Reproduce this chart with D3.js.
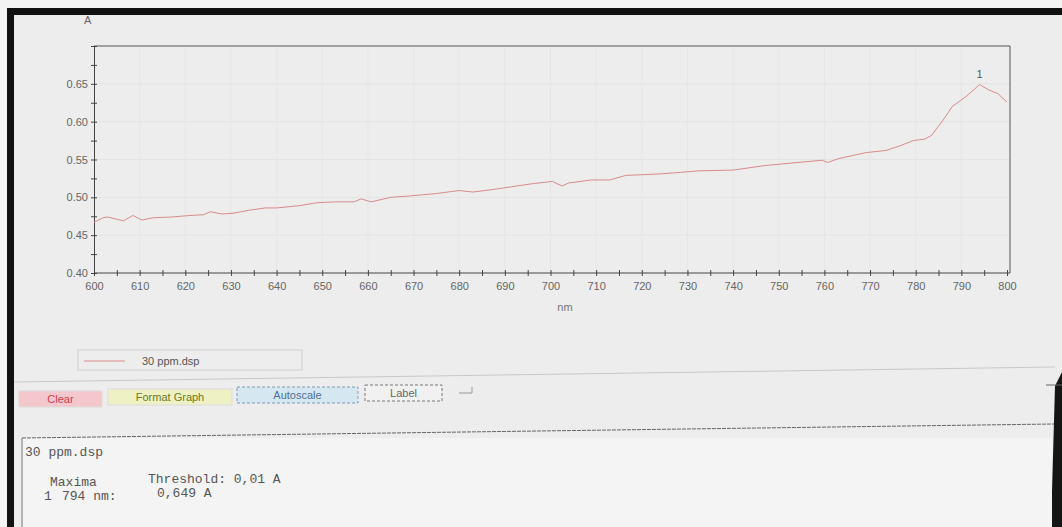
<!DOCTYPE html>
<html>
<head>
<meta charset="utf-8">
<script src="https://cdnjs.cloudflare.com/ajax/libs/d3/7.8.5/d3.min.js"></script>
<style>
  body { margin: 0; background: #f3f3f3; }
  svg { display: block; }
</style>
</head>
<body>
<div id="chart"></div>
<script>
const width = 1062;
const height = 527;

// spectrum (nm, absorbance)
const wavelength = [600, 602, 603, 605, 606.5, 608.5, 610.5, 613, 617, 621, 624, 625.5, 628, 630.5, 634, 637.5, 640, 645, 649, 653,
  657, 658.5, 660.7, 665, 669.5, 675, 680, 683, 687, 691.5, 696, 700.4, 702.5, 704, 709, 713, 716.5, 720.5, 724, 728.5,
  732.5, 740, 747, 754, 759.5, 760.7, 763, 769, 773.5, 776.5, 779.5, 782, 783.5, 786, 788, 791, 794, 796, 798, 800];
const absorbance = [0.467, 0.473, 0.474, 0.471, 0.469, 0.476, 0.470, 0.473, 0.474, 0.476, 0.477, 0.481, 0.478, 0.479, 0.483, 0.486, 0.486, 0.489, 0.493, 0.494,
  0.494, 0.498, 0.494, 0.500, 0.502, 0.505, 0.509, 0.507, 0.510, 0.514, 0.518, 0.521, 0.515, 0.519, 0.523, 0.523, 0.529, 0.530, 0.531, 0.533,
  0.535, 0.536, 0.542, 0.546, 0.549, 0.546, 0.551, 0.559, 0.562, 0.568, 0.575, 0.577, 0.582, 0.602, 0.620, 0.633, 0.649, 0.642, 0.637, 0.626];

const xTicks = [600, 610, 620, 630, 640, 650, 660, 670, 680, 690, 700, 710, 720, 730, 740, 750, 760, 770, 780, 790, 800];
const yTicks = [0.40, 0.45, 0.50, 0.55, 0.60, 0.65];
const peakNm = 794;
const peakA = 0.649;
const seriesName = "30 ppm.dsp";
const buttons = ["Clear", "Format Graph", "Autoscale", "Label"];
const reportText = ["30 ppm.dsp", "Maxima", "Threshold: 0,01 A", "1", "794 nm:", "0,649 A"];

const svg = d3.select("#chart").append("svg")
  .attr("width", width)
  .attr("height", height);

// screen background
svg.append("rect").attr("x", 14).attr("y", 15).attr("width", width - 14).attr("height", height - 15).attr("fill", "#ededed");

// bezel
svg.append("rect").attr("x", 7).attr("y", 8).attr("width", width - 7).attr("height", 7).attr("fill", "#111");
svg.append("rect").attr("x", 7).attr("y", 8).attr("width", 7).attr("height", height - 8).attr("fill", "#111");
svg.append("polygon").attr("points", "1062,372 1062,527 1051,527 1055,386").attr("fill", "#151515");

const pLeft = 94, pRight = 1010, pTop = 46, pBottom = 273;

let x = d3.scaleLinear().domain([600, 800]).range([pLeft, 1007]);
let y = d3.scaleLinear().domain([0.40, 0.70]).range([pBottom, pTop]);

// faint grid
svg.append("g").selectAll("line").data(yTicks.slice(1))
  .enter().append("line")
  .attr("x1", pLeft).attr("x2", pRight)
  .attr("y1", d => y(d)).attr("y2", d => y(d))
  .attr("stroke", "#e3e3e3");
svg.append("g").selectAll("line").data(xTicks.slice(1, -1))
  .enter().append("line")
  .attr("x1", d => x(d)).attr("x2", d => x(d))
  .attr("y1", pTop).attr("y2", pBottom)
  .attr("stroke", "#e6e6e6");

// frame top / right
svg.append("line").attr("x1", pLeft).attr("x2", pRight).attr("y1", pTop).attr("y2", pTop).attr("stroke", "#555");
svg.append("line").attr("x1", pRight).attr("x2", pRight).attr("y1", pTop).attr("y2", pBottom).attr("stroke", "#555");

const xAxis = d3.axisBottom(x)
  .tickValues(d3.range(600, 801, 5))
  .tickSize(3)
  .tickPadding(6)
  .tickFormat(d => xTicks.includes(d) ? d : "");
const gx = svg.append("g")
  .attr("transform", "translate(0," + pBottom + ")")
  .call(xAxis);
gx.select(".domain").attr("d", "M" + pLeft + ",0H" + pRight).attr("stroke", "#444");
gx.selectAll(".tick line").attr("y1", -3).attr("y2", 3).attr("stroke", "#444");
gx.selectAll("text").attr("fill", "#666").style("font", "11px 'Liberation Sans', Arial, sans-serif");

const yAxis = d3.axisLeft(y)
  .tickValues(d3.range(0.40, 0.701, 0.025))
  .tickSize(3)
  .tickPadding(3)
  .tickFormat(d => yTicks.some(t => Math.abs(t - d) < 1e-6) ? d3.format(".2f")(d) : "");
const gy = svg.append("g")
  .attr("transform", "translate(" + pLeft + ",0)")
  .call(yAxis);
gy.select(".domain").attr("stroke", "#444");
gy.selectAll(".tick line").attr("x1", -3).attr("x2", 3).attr("stroke", "#444");
gy.selectAll("text").attr("fill", "#666").style("font", "11px 'Liberation Sans', Arial, sans-serif");

svg.append("text").attr("x", 84).attr("y", 24).attr("fill", "#666")
  .style("font", "11px 'Liberation Sans', Arial, sans-serif").text("A");
svg.append("text").attr("x", 565).attr("y", 311).attr("fill", "#777").attr("text-anchor", "middle")
  .style("font", "11px 'Liberation Sans', Arial, sans-serif").text("nm");

// spectrum
const pts = wavelength.map((w, i) => [w, absorbance[i]]);
const line = d3.line().x(d => x(d[0])).y(d => y(d[1]));
svg.append("path").datum(pts)
  .attr("d", line)
  .attr("fill", "none")
  .attr("stroke", "#d98a8c")
  .attr("stroke-width", 1);

svg.append("text").attr("x", x(peakNm)).attr("y", y(peakA) - 7).attr("text-anchor", "middle")
  .attr("fill", "#555").style("font", "11px 'Liberation Sans', Arial, sans-serif").text("1");

// legend
svg.append("rect").attr("x", 78).attr("y", 350).attr("width", 224).attr("height", 20)
  .attr("fill", "none").attr("stroke", "#cfcfcf");
svg.append("line").attr("x1", 84).attr("x2", 125).attr("y1", 361).attr("y2", 361).attr("stroke", "#d98a8c");
svg.append("text").attr("x", 142).attr("y", 365).attr("fill", "#555")
  .style("font", "11px 'Liberation Sans', Arial, sans-serif").text(seriesName);

// separators
svg.append("line").attr("x1", 14).attr("x2", 1055).attr("y1", 382).attr("y2", 367).attr("stroke", "#c8c8c8");
svg.append("line").attr("x1", 1046).attr("x2", 1062).attr("y1", 385).attr("y2", 385).attr("stroke", "#666");

// buttons
const btnX = [19, 108, 237, 365];
const btnW = [83, 124, 121, 77];
const btnY = [391, 389, 387, 385];
const btnFill = ["#f4c7cd", "#eef1c4", "#d5e7f0", "#f1f1f1"];
const btnTxt = ["#cf4050", "#6a7a20", "#4f6f9a", "#666"];
const btn = svg.append("g").selectAll("g").data(buttons).enter().append("g");
btn.append("rect")
  .attr("x", (d, i) => btnX[i]).attr("y", (d, i) => btnY[i])
  .attr("width", (d, i) => btnW[i]).attr("height", 16)
  .attr("fill", (d, i) => btnFill[i])
  .attr("stroke", (d, i) => i == 2 ? "#7f9bb5" : (i == 3 ? "#777" : "#dcdcdc"))
  .attr("stroke-dasharray", (d, i) => i >= 2 ? "3,2" : null);
btn.append("text")
  .attr("x", (d, i) => btnX[i] + btnW[i] / 2).attr("y", (d, i) => btnY[i] + 12)
  .attr("text-anchor", "middle")
  .attr("fill", (d, i) => btnTxt[i])
  .style("font", "11px 'Liberation Sans', Arial, sans-serif")
  .text(d => d);
svg.append("path").attr("d", "M459,393H472V387").attr("fill", "none").attr("stroke", "#999");

// report panel
svg.append("rect").attr("x", 22).attr("y", 438).attr("width", 1030).attr("height", 100).attr("fill", "#f4f4f4");
svg.append("line").attr("x1", 22).attr("x2", 1054).attr("y1", 438).attr("y2", 424)
  .attr("stroke", "#666").attr("stroke-dasharray", "4,1");
svg.append("line").attr("x1", 22).attr("x2", 22).attr("y1", 438).attr("y2", 527).attr("stroke", "#777");
const repX = [25, 50, 148, 44, 62, 157];
const repY = [456, 486, 483, 500, 500, 497];
svg.append("g").selectAll("text").data(reportText).enter().append("text")
  .attr("x", (d, i) => repX[i]).attr("y", (d, i) => repY[i])
  .attr("fill", "#555")
  .style("font", "13px 'Liberation Mono', 'DejaVu Sans Mono', monospace")
  .text(d => d);
</script>
</body>
</html>
